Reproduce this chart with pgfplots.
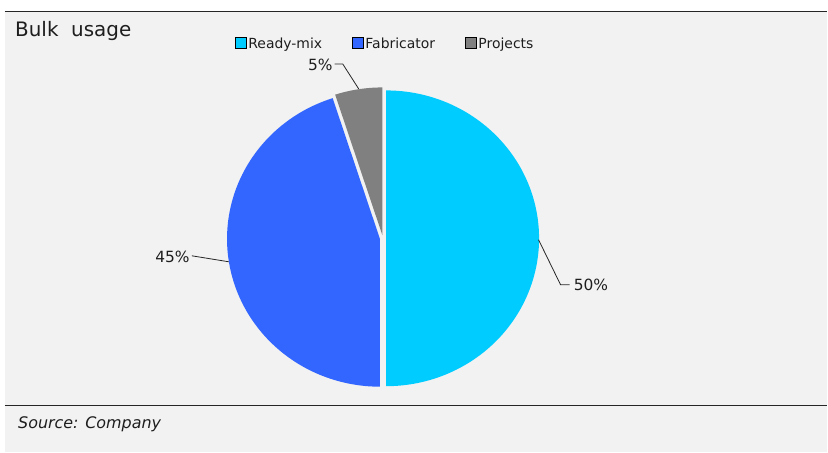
\documentclass[border=0pt]{standalone}
\usepackage{pgfplots}
\pgfplotsset{compat=1.18}
\usepackage{fontspec}
\setmainfont{DejaVu Sans}
\definecolor{cReady}{HTML}{00CCFF}
\definecolor{cFab}{HTML}{3366FF}
\definecolor{cProj}{HTML}{808080}
\definecolor{bgc}{HTML}{F2F2F2}
\definecolor{txt}{HTML}{1E1E1E}
\begin{document}
\begin{tikzpicture}
% data (percent shares)
\pgfmathsetmacro{\vA}{50}% Ready-mix
\pgfmathsetmacro{\vB}{45}% Fabricator
\pgfmathsetmacro{\vC}{5}%  Projects
\pgfmathsetmacro{\aA}{90}
\pgfmathsetmacro{\aB}{\aA-3.6*\vA}
\pgfmathsetmacro{\aC}{\aB-3.6*\vB}
\pgfmathsetmacro{\aD}{\aC-3.6*\vC}
\def\cy{214.5}\def\rx{153}\def\ry{148}
\begin{axis}[
  width=828bp, height=453bp, scale only axis,
  xmin=0, xmax=828, ymin=0, ymax=453,
  axis lines=none, clip=false,
  legend columns=3,
  legend image code/.code={\fill[#1] (0bp,-4.5bp) rectangle (11bp,6.5bp);},
  legend style={at={(axis cs:235,409)}, anchor=west, draw=none, fill=none,
    font=\fontsize{14}{16}\selectfont\color{txt},
    /tikz/every even column/.append style={column sep=28bp},
    inner sep=0pt},
]
\fill[white] (axis cs:0,0) rectangle (axis cs:828,453);
\fill[bgc] (axis cs:5,1) rectangle (axis cs:828,441.5);
\draw[line width=1.3bp, black!85] (axis cs:5,441.5) -- (axis cs:828,441.5);
\draw[line width=1bp, black!85] (axis cs:5,47.5) -- (axis cs:828,47.5);

\addplot[forget plot, fill=cReady, draw=none, domain=\aA:\aB, samples=120, variable=\t]
  ({386.5+\rx*cos(\t)},{\cy+\ry*sin(\t)}) -- (axis cs:386.5,\cy) -- cycle;
\addplot[forget plot, fill=cFab, draw=none, domain=\aB:\aC, samples=120, variable=\t]
  ({380.2+\rx*cos(\t)},{\cy-0.5+\ry*sin(\t)}) -- (axis cs:380.2,\cy-0.5) -- cycle;
\addplot[forget plot, fill=cProj, draw=none, domain=\aC:\aD, samples=20, variable=\t]
  ({382.7+\rx*cos(\t)},{\cy+3+\ry*sin(\t)}) -- (axis cs:382.7,\cy+3) -- cycle;

\addlegendimage{fill=cReady}\addlegendentry{Ready-mix}
\addlegendimage{fill=cFab}\addlegendentry{Fabricator}
\addlegendimage{fill=cProj}\addlegendentry{Projects}

% leader lines and labels
\draw[black!85, line width=0.8bp] (axis cs:539,213) -- (axis cs:561,168) -- (axis cs:570,168);
\node[anchor=west, inner sep=0pt, text=txt, font=\fontsize{15.5}{17}\selectfont] at (axis cs:574,168) {50\%};
\draw[black!85, line width=0.8bp] (axis cs:229,191) -- (axis cs:192,197);
\node[anchor=east, inner sep=0pt, text=txt, font=\fontsize{15.5}{17}\selectfont] at (axis cs:190,196) {45\%};
\draw[black!85, line width=0.8bp] (axis cs:359,364) -- (axis cs:343,389) -- (axis cs:335,389);
\node[anchor=east, inner sep=0pt, text=txt, font=\fontsize{15.5}{17}\selectfont] at (axis cs:333,388) {5\%};

\node[anchor=base west, inner sep=0pt, text=txt, font=\fontsize{20}{23}\selectfont] at (axis cs:15,416) {Bulk\ \ usage};
\node[anchor=base west, inner sep=0pt, text=txt, font=\fontsize{16}{18}\selectfont\itshape] at (axis cs:18,24) {Source: Company};
\end{axis}
\end{tikzpicture}
\end{document}
